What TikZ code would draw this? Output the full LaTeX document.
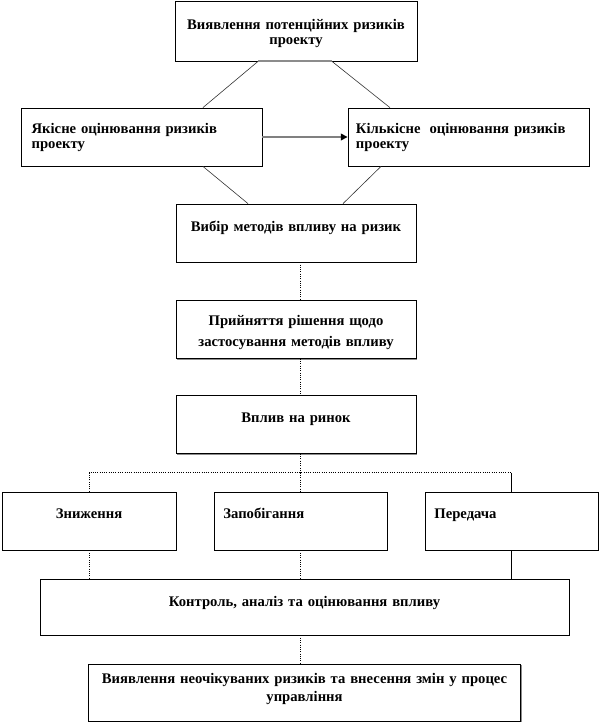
\documentclass[tikz,border=0pt]{standalone}
\usepackage{fontspec}
\setmainfont{Liberation Serif}
\usepackage{tikz}
\usetikzlibrary{arrows.meta,shapes,shadows}
\tikzstyle{block}=[rectangle,draw=black,line width=.6pt,fill=white,
                   inner xsep=5pt,inner ysep=0pt,align=center,
                   general shadow={fill=black!45,shadow xshift=.8pt,shadow yshift=-.8pt}]
\tikzstyle{link}=[densely dotted,line width=.7pt]
\tikzstyle{line}=[black,line width=.7pt]
\tikzstyle{slant}=[black!80,line width=.45pt]
\tikzstyle{rim}=[black!45,line width=1.4pt]
\tikzstyle{pointer}=[-{Triangle[length=5pt,width=5pt,color=black]},
                     line width=1.1pt,draw=black!50]

\begin{document}
\begin{tikzpicture}[x=.75pt,y=.75pt,
                    font=\fontsize{11}{11.25}\selectfont\bfseries]
\useasboundingbox (0,0) rectangle (601,-725);

	\node[block,text width=171.5pt,text height=21pt,text depth=24pt] (vyyav) at (296,-31)
		{Виявлення потенційних ризиків\\проекту};
	\node[block,align=left,inner xsep=8pt,text width=164.75pt,text height=18.75pt,text depth=24.75pt]
		(yakisne) [below of=vyyav,node distance=79.5pt,xshift=-115.9pt]
		{Якісне оцінювання ризиків\\проекту};
	\node[block,align=left,inner xsep=6pt,text width=168.75pt,text height=18.75pt,text depth=24.75pt]
		(kilkisne) [right of=yakisne,node distance=245.25pt]
		{Кількісне\hspace{3pt} оцінювання ризиків\\проекту};
	\node[block,text width=170pt,text height=20.75pt,text depth=22.75pt]
		(vybir) [below of=vyyav,node distance=151.5pt]
		{Вибір методів впливу на ризик};
	\node[block,text width=170pt,text height=18.5pt,text depth=25pt,
	      font=\fontsize{11}{16}\selectfont\bfseries]
		(pryiniattia) [below of=vybir,node distance=72.4pt]
		{Прийняття рішення щодо\\застосування методів впливу};
	\node[block,text width=170pt,text height=20.25pt,text depth=23.25pt]
		(vplyv) [below of=pryiniattia,node distance=71.25pt]
		{Вплив на ринок};
	\node[block,align=left,text width=115.75pt,inner xsep=7pt,text height=19.5pt,text depth=24pt]
		(zapob) [below of=vplyv,node distance=72.4pt,xshift=3.4pt]
		{Запобігання};
	\node[block,text width=120.5pt,text height=19.5pt,text depth=24pt]
		(znyzh) [left of=zapob,node distance=158.6pt]
		{Зниження};
	\node[block,align=left,text width=115.75pt,inner xsep=7pt,text height=19.5pt,text depth=24pt]
		(pered) [right of=zapob,node distance=158.25pt]
		{Передача};
	\node[block,text width=386.75pt,text height=20.25pt,text depth=21.75pt]
		(kontrol) [below of=zapob,node distance=64.5pt,xshift=3pt]
		{Контроль, аналіз та оцінювання впливу};
	\node[block,inner xsep=1pt,text width=322pt,text height=14.5pt,text depth=28.25pt,
	      font=\fontsize{11}{13.5}\selectfont\bfseries]
		(vyiavl) [below of=kontrol,node distance=64.1pt]
		{Виявлення неочікуваних ризиків та внесення змін у процес\\управління};

	\coordinate (axis) at (300,0);
	\coordinate (split) at (300,-472.7);

  \draw[rim] ([xshift=-28.5pt]vyyav.south) -- ([xshift=27pt]vyyav.south);
  \draw[slant] ([xshift=-28.5pt]vyyav.south) -- ([xshift=46.1pt]yakisne.north);
  \draw[slant] ([xshift=27pt]vyyav.south) -- ([xshift=-58.9pt]kilkisne.north);
  \draw[slant] ([xshift=46.1pt]yakisne.south) -- ([xshift=-36pt]vybir.north);
  \draw[slant] ([xshift=-65.6pt]kilkisne.south) -- ([xshift=35.25pt]vybir.north);
  \draw[pointer] (yakisne.east) -- (kilkisne.west);

  \draw[link] (vybir.south -| axis) -- (pryiniattia.north -| axis);
  \draw[link] (pryiniattia.south -| axis) -- (vplyv.north -| axis);
  \draw[link] (vplyv.south -| axis) -- (split);
  \draw[link] (znyzh.north) |- (split) -- (split -| pered.north);
  \draw[link] (split) -- (zapob.north -| axis);
  \draw[line] (split -| pered.north) -- (pered.north);

  \draw[link] (znyzh.south) -- (znyzh.south |- kontrol.north);
  \draw[link] (zapob.south -| axis) -- (kontrol.north -| axis);
  \draw[line] (pered.south) -- (pered.south |- kontrol.north);
  \draw[link] (kontrol.south -| axis) -- (vyiavl.north -| axis);

\end{tikzpicture}
\end{document}
